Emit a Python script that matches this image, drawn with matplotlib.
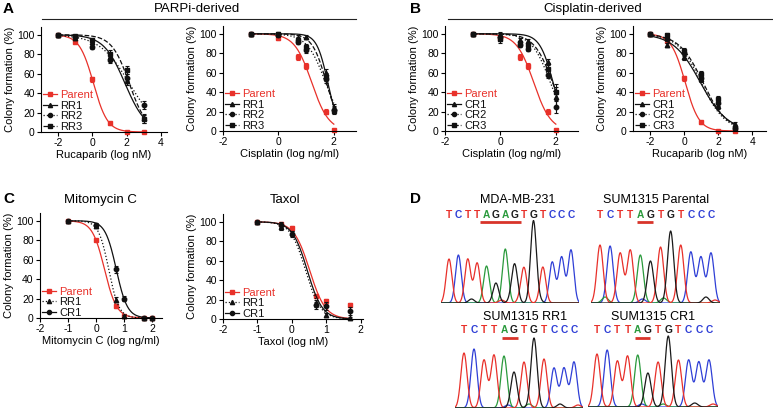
import numpy as np
import matplotlib
matplotlib.use("Agg")
from matplotlib import pyplot as plt
from matplotlib.lines import Line2D

plt.rcParams['font.family'] = ['Liberation Sans', 'DejaVu Sans']

W, H = 773, 411
RED = "#e8312a"
BLACK = "#111111"

# ---- dose response data (log dose, % colony formation) ----
ruc_x = [-2, -1, 0, 1, 2, 3]
cis_x = [-1, 0, 0.7, 1, 1.7, 2]
mmc_x = [-1, 0, 0.7, 1, 1.7, 2]
tax_x = [-1, -0.3, 0, 0.7, 1, 1.7]

parent_ruc = [100, 93, 54, 9, 0, 0]
parent_ruc_err = [1, 1.5, 3, 1.5, 0.5, 0.5]
parent_ruc_fit = (0.06, 1.06)
rr1_ruc = [100, 97, 93, 77, 52, 14]
rr1_ruc_err = [1, 2, 2, 4, 4, 5]
rr1_ruc_fit = (1.9, 0.7)
rr2_ruc = [100, 98, 87, 74, 56, 28]
rr2_ruc_err = [1, 1, 2, 3, 4, 4]
rr2_ruc_fit = (2.15, 0.5)
rr3_ruc = [100, 99, 95, 80, 64, 13]
rr3_ruc_err = [1, 1, 2, 4, 4, 4]
rr3_ruc_fit = (2.15, 0.85)

parent_cis = [100, 96, 76, 67, 20, 1]
parent_cis_err = [1, 2, 3, 3, 3, 1]
parent_cis_fit = (1.2, 1.4)
rr1_cis = [100, 100, 96, 97, 60, 24]
rr1_cis_err = [1, 2, 3, 2, 4, 4]
rr1_cis_fit = (1.78, 2.2)
rr2_cis = [100, 99, 92, 83, 53, 22]
rr2_cis_err = [1, 2, 3, 3, 4, 4]
rr2_cis_fit = (1.7, 1.3)
rr3_cis = [100, 100, 94, 86, 56, 21]
rr3_cis_err = [1, 2, 3, 3, 4, 4]
rr3_cis_fit = (1.73, 1.7)

cr1_cis = [100, 99, 94, 93, 71, 35]
cr1_cis_err = [1, 3, 2, 2, 3, 10]
cr1_cis_fit = (1.9, 1.8)
cr2_cis = [100, 97, 88, 84, 58, 25]
cr2_cis_err = [1, 4, 2, 2, 4, 6]
cr2_cis_fit = (1.8, 1.3)
cr3_cis = [100, 95, 90, 88, 64, 40]
cr3_cis_err = [1, 4, 2, 2, 6, 8]
cr3_cis_fit = (1.88, 1.3)

cr1_ruc = [100, 88, 76, 53, 26, 7]
cr1_ruc_err = [1, 2, 3, 3, 3, 2]
cr1_ruc_fit = (0.95, 0.55)
cr2_ruc = [100, 95, 80, 55, 29, 3]
cr2_ruc_err = [1, 2, 3, 3, 3, 2]
cr2_ruc_fit = (1.0, 0.62)
cr3_ruc = [100, 99, 82, 59, 33, 3]
cr3_ruc_err = [1, 2, 3, 3, 3, 2]
cr3_ruc_fit = (1.1, 0.62)

parent_mmc = [100, 80, 12, 2, 0, 0]
parent_mmc_err = [1, 1, 2, 1, 0.5, 0.5]
parent_mmc_fit = (0.3, 2.0)
rr1_mmc = [100, 95, 19, 2, 0, 0]
rr1_mmc_err = [1, 1, 3, 1, 0.5, 0.5]
rr1_mmc_fit = (0.45, 2.4)
cr1_mmc = [100, 96, 50, 20, 0, 0]
cr1_mmc_err = [1, 1.5, 4, 3, 0.5, 0.5]
cr1_mmc_fit = (0.72, 2.2)

parent_tax = [100, 98, 94, 24, 19, 14]
parent_tax_err = [1, 2, 2, 2, 2, 2]
parent_tax_fit = (0.52, 1.9)
rr1_tax = [100, 95, 88, 16, 4, 1]
rr1_tax_err = [1, 3, 3, 4, 2, 1]
rr1_tax_fit = (0.4, 2.0)
cr1_tax = [100, 97, 87, 14, 13, 8]
cr1_tax_err = [1, 3, 3, 4, 4, 4]
cr1_tax_fit = (0.45, 2.0)

# ---- sequencing traces: base calls and peak heights ----
mda_seq = "TCTTAGAGTGTCCC"
mda_heights = [44, 48, 44, 40, 37, 20, 54, 38, 34, 82, 36, 41, 46, 53]
mda_minor = [(2.4, "G", 4), (5.6, "T", 3), (6.6, "G", 3), (7.6, "T", 4), (9.6, "G", 3)]
par_seq = "TCTTAGTGTCCC"
par_heights = [58, 57, 50, 53, 48, 42, 56, 72, 58, 51, 46, 50]
par_minor = [(0.5, "A", 6), (4.2, "C", 4), (6.3, "A", 5), (10.5, "G", 6), (11.4, "T", 3)]
rr1_seq = "TCTTAGTGTCCC"
rr1_heights = [55, 59, 48, 53, 52, 36, 46, 70, 49, 40, 40, 46]
rr1_minor = [(4.4, "C", 3), (6.5, "A", 4), (9.6, "G", 4), (11.4, "T", 3)]
cr1_seq = "TCTTAGTGTCCC"
cr1_heights = [53, 57, 46, 51, 52, 34, 45, 71, 47, 47, 45, 47]
cr1_minor = [(4.4, "C", 3), (6.5, "A", 3), (9.6, "G", 4), (11.4, "T", 3)]

BASE_COLORS = {"T": "#e8302a", "C": "#2f3fd6", "A": "#2a9a3c", "G": "#1a1a1a"}


def px_rect(l, t, r, b):
    return [l / W, 1 - b / H, (r - l) / W, (b - t) / H]


def logistic(x, c, h):
    return 100.0 / (1.0 + 10 ** ((x - c) * h))


def dose_panel(fig, rect, x, series, xlim, xticks, xlabel):
    ax = fig.add_axes(px_rect(*rect))
    handles = []
    labels = []
    for label, y, err, fit, color, ls, marker in series:
        xs = np.linspace(min(x), max(x), 300)
        ax.plot(xs, logistic(xs, *fit), color=color, ls=ls, lw=0.9)
        eb = ax.errorbar(x, y, yerr=err, fmt="none", ecolor=color, elinewidth=0.8,
                         capsize=1.6, capthick=0.8)
        _, caps, bars = eb.lines
        for a in list(caps) + list(bars):
            a.set_clip_on(False)
        ax.plot(x, y, marker, ls="none", ms=3.2, color=color, clip_on=False)
        handles.append(Line2D([0], [0], color=color, ls=ls, lw=0.9, marker=marker, ms=3))
        labels.append(label)
    ax.set_xlim(*xlim)
    ax.set_ylim(0, 108)
    ax.set_xticks(xticks)
    ax.set_xticklabels([str(t) for t in xticks])
    ax.set_yticks([0, 20, 40, 60, 80, 100])
    for s in ["top", "right"]:
        ax.spines[s].set_visible(False)
    for s in ["left", "bottom"]:
        ax.spines[s].set_linewidth(0.8)
    ax.tick_params(direction="out", length=3, width=0.8, pad=1.5, labelsize=7.5)
    ax.set_xlabel(xlabel, fontsize=8, labelpad=1)
    ax.set_ylabel("Colony formation (%)", fontsize=8, labelpad=1.5)
    ax.legend(handles, labels, loc="lower left", bbox_to_anchor=(0.0, -0.02),
              frameon=False, fontsize=8, handlelength=1.2, handletextpad=0.3,
              labelspacing=0.05, borderaxespad=0.1, borderpad=0.1,
              labelcolor="linecolor")
    return ax


def chromatogram(fig, p0, p1, base_y, top_y, seq, heights, minor, ul, letter_y, ul_y):
    n = len(seq)
    step = (p1 - p0) / (n - 1)
    ax = fig.add_axes(px_rect(p0 - 0.9 * step, top_y, p1 + 0.9 * step, base_y))
    ax.set_xlim(-0.9, n - 1 + 0.9)
    ax.set_ylim(0, base_y - top_y)
    ax.axis("off")
    xs = np.linspace(-0.9, n - 1 + 0.9, 600)
    sigma = 0.31
    peaks = [(i, b, h) for i, (b, h) in enumerate(zip(seq, heights))] + list(minor)
    for base in ["C", "A", "T", "G"]:
        trace = np.zeros_like(xs)
        for pos, b, h in peaks:
            if b == base:
                trace += h * np.exp(-((xs - pos) ** 2) / (2 * sigma ** 2))
        ax.plot(xs, trace, color=BASE_COLORS[base], lw=0.9)
    ax.axhline(0, color="#777777", lw=0.6)
    for i, b in enumerate(seq):
        ax.text(i, letter_y, b, color=BASE_COLORS[b], fontsize=7.3, fontweight="bold",
                ha="center", va="center")
    ax.plot([ul[0], ul[1]], [ul_y, ul_y], color="#d8342a", lw=2, solid_capstyle="butt",
            clip_on=False)
    return ax


fig = plt.figure(figsize=(W / 100, H / 100), dpi=100)

parent = "Parent"
dose_panel(fig, (41, 27, 167, 132), ruc_x, [
    (parent, parent_ruc, parent_ruc_err, parent_ruc_fit, RED, "-", "s"),
    ("RR1", rr1_ruc, rr1_ruc_err, rr1_ruc_fit, BLACK, "-", "^"),
    ("RR2", rr2_ruc, rr2_ruc_err, rr2_ruc_fit, BLACK, ":", "o"),
    ("RR3", rr3_ruc, rr3_ruc_err, rr3_ruc_fit, BLACK, "--", "s"),
], (-3, 4.35), [-2, 0, 2, 4], "Rucaparib (log nM)")

dose_panel(fig, (223, 26, 356, 131), cis_x, [
    (parent, parent_cis, parent_cis_err, parent_cis_fit, RED, "-", "s"),
    ("RR1", rr1_cis, rr1_cis_err, rr1_cis_fit, BLACK, "-", "^"),
    ("RR2", rr2_cis, rr2_cis_err, rr2_cis_fit, BLACK, ":", "o"),
    ("RR3", rr3_cis, rr3_cis_err, rr3_cis_fit, BLACK, "--", "s"),
], (-2, 2.8), [-2, 0, 2], "Cisplatin (log ng/ml)")

dose_panel(fig, (445, 26, 578, 131), cis_x, [
    (parent, parent_cis, parent_cis_err, parent_cis_fit, RED, "-", "s"),
    ("CR1", cr1_cis, cr1_cis_err, cr1_cis_fit, BLACK, "-", "^"),
    ("CR2", cr2_cis, cr2_cis_err, cr2_cis_fit, BLACK, ":", "o"),
    ("CR3", cr3_cis, cr3_cis_err, cr3_cis_fit, BLACK, "--", "s"),
], (-2, 2.8), [-2, 0, 2], "Cisplatin (log ng/ml)")

dose_panel(fig, (633, 26, 766, 131), ruc_x, [
    (parent, parent_ruc, parent_ruc_err, parent_ruc_fit, RED, "-", "s"),
    ("CR1", cr1_ruc, cr1_ruc_err, cr1_ruc_fit, BLACK, "-", "^"),
    ("CR2", cr2_ruc, cr2_ruc_err, cr2_ruc_fit, BLACK, ":", "o"),
    ("CR3", cr3_ruc, cr3_ruc_err, cr3_ruc_fit, BLACK, "--", "s"),
], (-3, 4.8), [-2, 0, 2, 4], "Rucaparib (log nM)")

dose_panel(fig, (40, 213, 162, 318), mmc_x, [
    (parent, parent_mmc, parent_mmc_err, parent_mmc_fit, RED, "-", "s"),
    ("RR1", rr1_mmc, rr1_mmc_err, rr1_mmc_fit, BLACK, ":", "^"),
    ("CR1", cr1_mmc, cr1_mmc_err, cr1_mmc_fit, BLACK, "-", "o"),
], (-2, 2.35), [-2, -1, 0, 1, 2], "Mitomycin C (log ng/ml)")

dose_panel(fig, (223, 214, 363, 319), tax_x, [
    (parent, parent_tax, parent_tax_err, parent_tax_fit, RED, "-", "s"),
    ("RR1", rr1_tax, rr1_tax_err, rr1_tax_fit, BLACK, ":", "^"),
    ("CR1", cr1_tax, cr1_tax_err, cr1_tax_fit, BLACK, "-", "o"),
], (-2, 2.07), [-2, -1, 0, 1, 2], "Taxol (log nM)")

# panel D chromatograms
chromatogram(fig, 449, 571, 303, 208, mda_seq, mda_heights, mda_minor, (3.3, 7.7), 88, 81)
chromatogram(fig, 600, 711, 303, 208, par_seq, par_heights, par_minor, (3.7, 5.3), 88, 81)
chromatogram(fig, 464, 574, 408, 323, rr1_seq, rr1_heights, rr1_minor, (3.8, 5.4), 78, 70)
chromatogram(fig, 597, 709, 407, 322, cr1_seq, cr1_heights, cr1_minor, (3.7, 5.25), 77, 69)

# headers, labels, rules
def ftext(x, y, s, **kw):
    fig.text(x / W, 1 - y / H, s, **kw)

ftext(3, 9, "A", fontsize=11, fontweight="bold", va="center")
ftext(410, 9, "B", fontsize=11, fontweight="bold", va="center")
ftext(3, 199, "C", fontsize=11, fontweight="bold", va="center")
ftext(410, 199, "D", fontsize=11, fontweight="bold", va="center")
ftext(197, 9, "PARPi-derived", fontsize=9.5, ha="center", va="center")
ftext(593, 9, "Cisplatin-derived", fontsize=9.5, ha="center", va="center")
ftext(100, 200, "Mitomycin C", fontsize=9.5, ha="center", va="center")
ftext(285, 200, "Taxol", fontsize=9.5, ha="center", va="center")
ftext(518, 200, "MDA-MB-231", fontsize=9, ha="center", va="center")
ftext(656, 200, "SUM1315 Parental", fontsize=9, ha="center", va="center")
ftext(525, 317, "SUM1315 RR1", fontsize=9, ha="center", va="center")
ftext(653, 317, "SUM1315 CR1", fontsize=9, ha="center", va="center")

fig.add_artist(Line2D([42 / W, 356 / W], [1 - 19 / H, 1 - 19 / H], color="#222222", lw=0.8))
fig.add_artist(Line2D([448 / W, 772 / W], [1 - 19 / H, 1 - 19 / H], color="#222222", lw=0.8))

fig.savefig("out.png", dpi=100)
